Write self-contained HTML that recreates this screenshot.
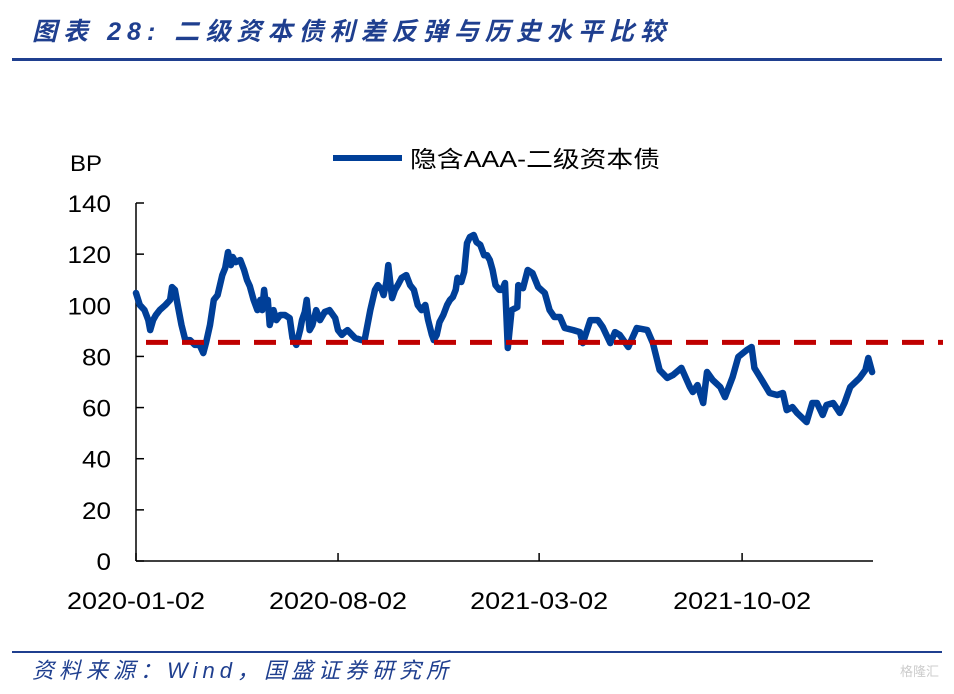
<!DOCTYPE html>
<html><head><meta charset="utf-8"><style>
body{margin:0;background:#fff;width:954px;height:689px;overflow:hidden;font-family:"Liberation Sans","Noto Sans CJK SC",sans-serif}
</style></head><body>
<svg width="954" height="689" xmlns="http://www.w3.org/2000/svg">
<text x="32" y="40" font-size="25" font-weight="bold" font-style="italic" fill="#1f3f8f" textLength="633" lengthAdjust="spacing" font-family="Liberation Sans,Noto Sans CJK SC,sans-serif">图表 28:  二级资本债利差反弹与历史水平比较</text>
<rect x="12" y="58" width="930" height="3" fill="#1f3f8f"/>
<rect x="12" y="651" width="930" height="2" fill="#1f3f8f"/>
<text x="32" y="678" font-size="22" font-style="italic" fill="#1f3f8f" textLength="416" lengthAdjust="spacing">资料来源：Wind，国盛证券研究所</text>
<text x="900" y="676" font-size="13" fill="#ccc">格隆汇</text>
<text x="70" y="171" font-size="22" fill="#000" textLength="32" lengthAdjust="spacingAndGlyphs">BP</text>
<g>
<line x1="333" y1="158" x2="402" y2="158" stroke="#003f98" stroke-width="6"/>
<text x="410" y="167" font-size="23" fill="#000" textLength="250" lengthAdjust="spacingAndGlyphs">隐含AAA-二级资本债</text>
</g>
<g id="axes"></g>
<g id="marks"></g>
</svg>
<script>
const days=[0,4,9,13,15,18,21,25,31,36,38,41,44,48,52,57,62,67,71,74,78,82,86,91,94,97,100,102,105,110,114,117,120,124,128,131,133,135,137,139,141,145,148,152,157,162,165,169,173,175,178,180,183,186,190,194,199,204,210,213,217,220,223,231,238,241,247,252,255,259,261,264,266,268,270,273,276,280,285,289,293,297,301,305,308,312,314,317,320,324,328,331,334,337,339,343,346,349,352,356,359,363,367,370,373,376,379,383,386,389,392,396,402,403,408,413,418,424,431,436,441,447,452,461,468,471,479,487,492,500,505,510,519,528,539,545,552,560,566,575,584,587,592,598,602,608,616,621,629,635,644,649,652,661,668,676,682,686,692,697,707,713,718,724,728,735,742,747,753,763,769,772,776];
const values=[104.8,100.1,98.1,94.2,90.3,94.2,96.2,98.1,100.1,102.1,107.1,106,100.1,92.3,86.4,86.4,84.5,84.5,81.3,85.6,92.3,102.1,104,111.8,114.6,120.8,115.7,118.9,116.9,117.7,113.8,109.9,107.5,102.1,98.1,102.1,98.1,106,100.1,102.1,92.3,98.1,94.2,96.2,96.2,95,87.2,84.5,90.3,94.2,97.4,102.1,90.3,92.3,98.1,94.2,97.4,98.1,95,90.3,88.4,89.5,90.3,87.2,86.4,86.4,98.1,106,107.9,106,104,109.1,115.7,109.1,102.8,106,107.9,110.7,111.8,107.9,106,100.1,98.1,100.1,94.2,88.4,86.4,88.4,93.4,96.2,100.1,102.1,103.2,106,110.7,109.1,113,124.3,126.7,127.5,124.7,123.6,119.6,119.6,117.7,113.8,107.9,106,106,108.7,83.3,98.1,99.3,107.9,106.7,113.8,112.6,107.1,104.8,98.1,95.4,95.4,91.1,90.3,89.5,85.2,94.2,94.2,91.5,85.2,89.5,88.4,83.7,91.1,90.3,85.2,74.7,71.6,72.7,75.5,68,66.1,68.8,61.8,73.9,70.8,68,64.1,71.9,79.8,82.5,83.7,75.5,70,65.7,64.9,65.7,59,60.2,57.9,54.3,61.8,61.8,57.1,61,61.8,57.9,61.8,68,71.6,74.7,79.4,73.9];
const yTicks=[0,20,40,60,80,100,120,140];
const xTickDays=[0,213,425,639];
const xTickLabels=["2020-01-02","2020-08-02","2021-03-02","2021-10-02"];
const refLevel=[85.5];
const NS="http://www.w3.org/2000/svg";
const X0=136,X1=873,DMAX=777,Y0=561,Y1=203,VMAX=140;
function xs(d){return X0+(X1-X0)*d/DMAX;}
function ys(v){return Y0-(Y0-Y1)*v/VMAX;}
function mk(t,a,p){const e=document.createElementNS(NS,t);for(const k in a)e.setAttribute(k,a[k]);p.appendChild(e);return e;}
const ax=document.getElementById('axes'),mg=document.getElementById('marks');
let e=mk('line',{x1:X0,y1:Y1,x2:X0,y2:Y0,stroke:'#000','stroke-width':1.5},ax);


e=mk('line',{x1:X0,y1:Y0,x2:X1,y2:Y0,stroke:'#000','stroke-width':1.5},ax);


yTicks.forEach(v=>{
 const t=mk('line',{x1:X0,y1:ys(v),x2:X0+8,y2:ys(v),stroke:'#000','stroke-width':1.5},ax);
 
 
 const s=String(v);
 const l=mk('text',{x:111,y:ys(v)+9,'font-size':24,'text-anchor':'end',fill:'#000',textLength:s.length*14.5,lengthAdjust:'spacingAndGlyphs'},ax);
 l.textContent=s;
 
 
});
xTickDays.forEach((d,i)=>{
 const t=mk('line',{x1:xs(d),y1:Y0,x2:xs(d),y2:Y0-8,stroke:'#000','stroke-width':1.5},ax);
 
 
 const l=mk('text',{x:xs(d),y:609,'font-size':24,'text-anchor':'middle',fill:'#000',textLength:138,lengthAdjust:'spacingAndGlyphs'},ax);
 l.textContent=xTickLabels[i];
 
 
});
let pts=days.map((d,i)=>xs(d).toFixed(1)+','+ys(values[i]).toFixed(1)).join(' ');
const pl=mk('polyline',{points:pts,fill:'none',stroke:'#003f98','stroke-width':6.5,'stroke-linejoin':'round','stroke-linecap':'round'},mg);


const rl=mk('line',{x1:xs(0)+10,y1:ys(refLevel[0]),x2:X1+70,y2:ys(refLevel[0]),stroke:'#c00000','stroke-width':5,'stroke-dasharray':'22 14'},mg);


</script>
</body></html>
